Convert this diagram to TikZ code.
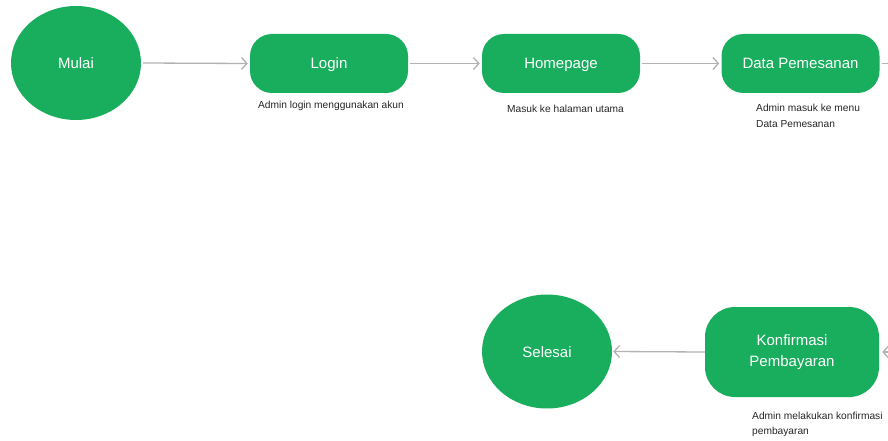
\documentclass[tikz,border=0pt]{standalone}
\usepackage{fontspec}
\setmainfont{Liberation Sans}
\usetikzlibrary{shapes.geometric,arrows.meta}
\definecolor{nodegreen}{RGB}{25,174,93}
\definecolor{linegray}{RGB}{178,178,178}
\begin{document}
\begin{tikzpicture}[x=1pt,y=-1pt,
  terminal/.style={ellipse,fill=nodegreen,draw=none,minimum width=130pt,minimum height=114pt,inner sep=0pt,text=white,text height=11pt,text depth=0pt,font=\fontsize{15}{17}\selectfont},
  stepbox/.style={rectangle,rounded corners=22pt,fill=nodegreen,draw=none,minimum width=158pt,minimum height=59pt,inner sep=0pt,text=white,text height=11pt,text depth=0pt,font=\fontsize{15}{17}\selectfont},
  note/.style={font=\fontsize{10.2}{15.5}\selectfont,text=black!85,inner sep=0pt,align=left},
  flow/.style={draw=linegray,line width=1.3pt,-{Straight Barb[length=5.5pt,width=12pt,line width=1.3pt]}}
]
\useasboundingbox (0,0) rectangle (888,441);
\node[terminal] (mulai) at (76,63) {Mulai};
\node[stepbox] (login) at (329,63.5) {Login};
\node[stepbox] (home) at (561,63.5) {Homepage};
\node[stepbox] (data) at (800.5,63.5) {Data Pemesanan};
\node[rectangle,rounded corners=30pt,fill=nodegreen,draw=none,minimum width=174pt,minimum height=90pt,inner sep=0pt,text=white,align=center,font=\fontsize{15}{21.5}\selectfont] (konf) at (792,352) {Konfirmasi\\Pembayaran};
\node[terminal] (selesai) at (547,351.5) {Selesai};

\node[note,anchor=base] (n1) at (331,108.5) {Admin login menggunakan akun};
\node[note,anchor=base] (n2) at (565.5,112.5) {Masuk ke halaman utama};
\node[note,anchor=north west] (n3) at (756,104) {Admin masuk ke menu\\Data Pemesanan};
\node[note,anchor=north west] (n4) at (752,411.5) {Admin melakukan konfirmasi\\pembayaran};

\coordinate (outtop) at (900,63.5);
\coordinate (inbot) at (900,352);

\draw[flow] (mulai.east) ++(2,0) -- ([xshift=-2pt]login.west);
\draw[flow] ([xshift=2pt]login.east) -- ([xshift=-2pt]home.west);
\draw[flow] ([xshift=2pt]home.east) -- ([xshift=-2pt]data.west);
\draw[draw=linegray,line width=1.3pt] ([xshift=2pt]data.east) -- (outtop);
\draw[flow] (inbot) -- ([xshift=3pt]konf.east);
\draw[flow] (konf.west) -- ([xshift=1pt]selesai.east);
\end{tikzpicture}
\end{document}
